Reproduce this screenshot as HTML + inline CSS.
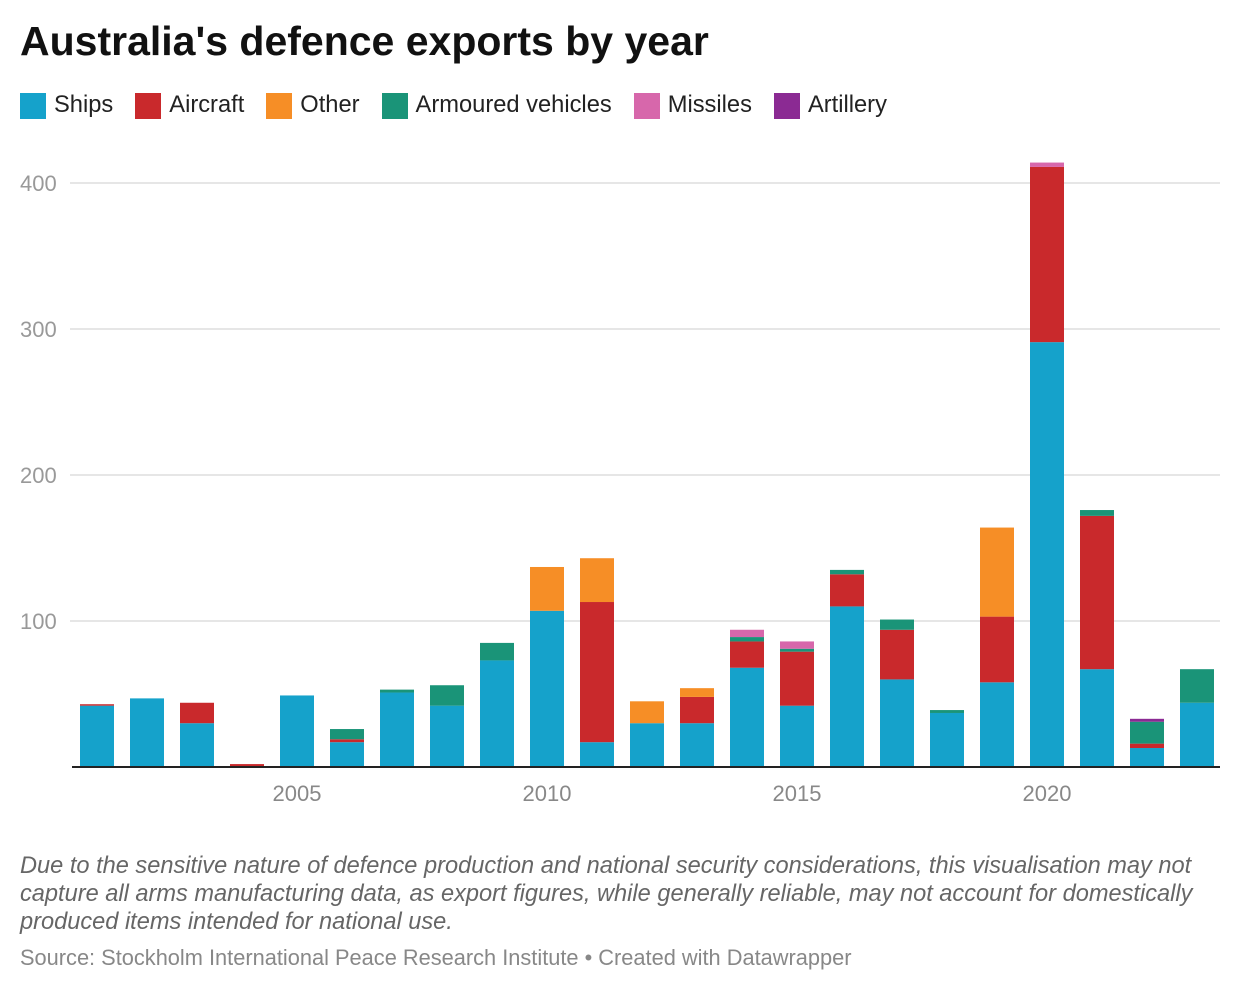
<!DOCTYPE html>
<html><head><meta charset="utf-8"><style>
body{margin:0;background:#fff;font-family:"Liberation Sans",sans-serif;width:1240px;height:994px;overflow:hidden;position:relative}
.title{position:absolute;left:20px;top:18px;font-size:41px;font-weight:bold;color:#111;letter-spacing:0}
.legend{position:absolute;left:20px;top:92px;display:flex;font-size:23.7px;color:#222}
.li{display:flex;align-items:center;margin-right:22px}
.sw{width:26px;height:26px;margin-right:8px}
.note{position:absolute;left:20px;top:852px;width:1195px;font-size:23.6px;font-style:italic;color:#666;line-height:28px;white-space:nowrap}
.src{position:absolute;left:20px;top:945px;font-size:21.8px;color:#888}
svg{position:absolute;left:0;top:0}
</style></head><body>
<div class="title">Australia's defence exports by year</div>
<div class="legend">
<div class="li"><div class="sw" style="background:#15a2cb"></div>Ships</div>
<div class="li"><div class="sw" style="background:#c9292c"></div>Aircraft</div>
<div class="li"><div class="sw" style="background:#f68e26"></div>Other</div>
<div class="li"><div class="sw" style="background:#1a9478"></div>Armoured vehicles</div>
<div class="li"><div class="sw" style="background:#d767ab"></div>Missiles</div>
<div class="li"><div class="sw" style="background:#8b2a93"></div>Artillery</div>
</div>
<svg id="chart" width="1240" height="994"></svg>
<div class="note">Due to the sensitive nature of defence production and national security considerations, this visualisation may not<br>capture all arms manufacturing data, as export figures, while generally reliable, may not account for domestically<br>produced items intended for national use.</div>
<div class="src">Source: Stockholm International Peace Research Institute • Created with Datawrapper</div>
<script>
const years=[2001,2002,2003,2004,2005,2006,2007,2008,2009,2010,2011,2012,2013,2014,2015,2016,2017,2018,2019,2020,2021,2022,2023];
const ships=[42,47,30,0,49,17,51,42,73,107,17,30,30,68,42,110,60,37,58,291,67,13,44];
const aircraft=[1,0,14,2,0,2,0,0,0,0,96,0,18,18,37,22,34,0,45,120,105,3,0];
const other=[0,0,0,0,0,0,0,0,0,30,30,15,6,0,0,0,0,0,61,0,0,0,0];
const armoured=[0,0,0,0,0,7,2,14,12,0,0,0,0,3,2,3,7,2,0,0,4,15,23];
const missiles=[0,0,0,0,0,0,0,0,0,0,0,0,0,5,5,0,0,0,0,3,0,0,0];
const artillery=[0,0,0,0,0,0,0,0,0,0,0,0,0,0,0,0,0,0,0,0,0,2,0];
const yTicks=[100,200,300,400];
const xTicks=[2005,2010,2015,2020];
const series=[["ships",ships,"#15a2cb"],["aircraft",aircraft,"#c9292c"],["other",other,"#f68e26"],["armoured",armoured,"#1a9478"],["missiles",missiles,"#d767ab"],["artillery",artillery,"#8b2a93"]];
const y=v=>767-v*1.46;
const x=yr=>97+(yr-2001)*50;
const bw=34;
const svg=document.getElementById('chart');
const NS="http://www.w3.org/2000/svg";
function mk(t,a){const e=document.createElementNS(NS,t);for(const k in a)e.setAttribute(k,a[k]);svg.appendChild(e);return e;}
yTicks.forEach(v=>{
 const g=mk('line',{x1:70,x2:1220,y1:y(v),y2:y(v),stroke:'#ddd','stroke-width':1.5});
 
 
 const t=mk('text',{x:20,y:y(v)+8,'font-size':22,fill:'#999','font-family':'Liberation Sans, sans-serif'});
 t.textContent=v;
 
 
});
years.forEach((yr,i)=>{
 let acc=0;
 series.forEach(([n,arr,c])=>{
  const v=arr[i]; if(!v) return;
  const r=mk('rect',{x:x(yr)-bw/2,y:y(acc+v),width:bw,height:v*1.46,fill:c});
  
  
  acc+=v;
 });
});
const ax=mk('line',{x1:72,x2:1220,y1:767,y2:767,stroke:'#222','stroke-width':2});


xTicks.forEach(yr=>{
 const t=mk('text',{x:x(yr),y:801,'font-size':22,fill:'#888','text-anchor':'middle','font-family':'Liberation Sans, sans-serif'});
 t.textContent=yr;
 
 
});
</script>
</body></html>
